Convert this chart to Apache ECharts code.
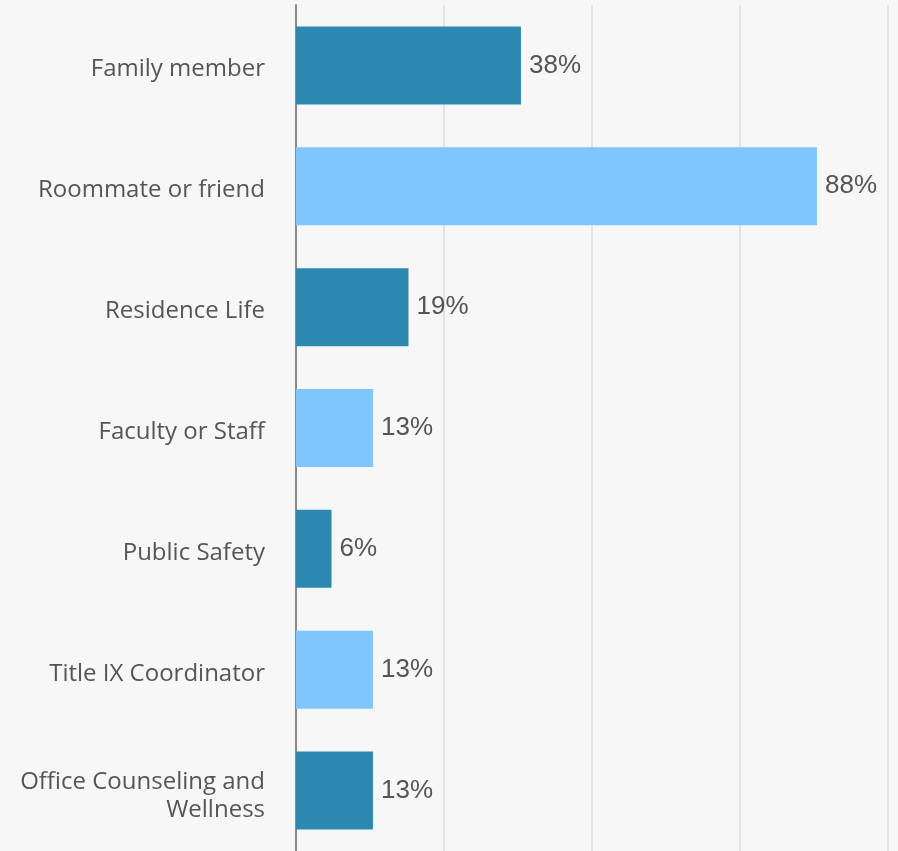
<!DOCTYPE html>
<html>
<head>
<meta charset="utf-8">
<script src="https://cdn.jsdelivr.net/npm/echarts@6/dist/echarts.min.js"></script>
<style>
  html, body { margin: 0; padding: 0; background: #f7f7f7; }
  #chart { width: 898px; height: 851px; }
</style>
</head>
<body>
<div id="chart"></div>
<script>
// Who respondents told
const categories = [
  'Family member',
  'Roommate or friend',
  'Residence Life',
  'Faculty or Staff',
  'Public Safety',
  'Title IX Coordinator',
  'Office Counseling and\nWellness'
];
const values = [38, 88, 19, 13, 6, 13, 13];
const palette = ['#2e89b2', '#80c6fe'];

const chart = echarts.init(document.getElementById('chart'));
chart.setOption({
  backgroundColor: '#f7f7f7',
  animation: false,
  grid: { left: 296, right: 10, top: 5, height: 848, containLabel: false },
  xAxis: {
    type: 'value', min: 0, max: 100, interval: 25,
    axisLabel: { show: false }, axisTick: { show: false }, axisLine: { show: false },
    splitLine: { show: true, lineStyle: { color: '#e4e4e4', width: 2 }, showMinLine: false }
  },
  yAxis: {
    type: 'category', inverse: true, data: categories,
    axisTick: { show: false },
    axisLine: { show: true, lineStyle: { color: '#888888', width: 2 } },
    axisLabel: { show: false }
  },
  series: [{
    type: 'bar', barWidth: 78,
    data: values.map((v, i) => ({ value: v, itemStyle: { color: palette[i % 2] } })),
    label: {
      show: true, position: 'right', distance: 8, formatter: p => p.value + '%',
      color: '#555555', fontFamily: 'Liberation Sans', fontSize: 26
    }
  }, {
    // category names, drawn as labels anchored at x = 0 of each row
    type: 'scatter', silent: true, symbolSize: 0,
    itemStyle: { opacity: 1 },
    data: categories.map(c => ({
      value: [0, c],
      label: { offset: [0, c.includes('\n') ? 6 : 4] }
    })),
    label: {
      show: true, position: 'left', distance: 31, formatter: p => p.value[1],
      color: '#555555', opacity: 1, fontFamily: 'Open Sans', fontSize: 24,
      lineHeight: 28, align: 'right'
    }
  }]
});
</script>
</body>
</html>
